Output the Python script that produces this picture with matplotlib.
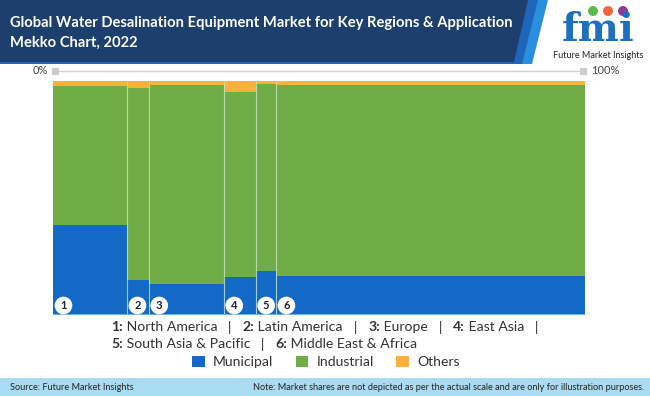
import matplotlib
matplotlib.use("Agg")
import matplotlib.pyplot as plt
from matplotlib.patches import Polygon, Rectangle, Circle
import numpy as np

plt.rcParams['font.family'] = ['Lato', 'DejaVu Sans']

# ---- data ----
region_nums = ['1', '2', '3', '4', '5', '6']
regions = ['North America', 'Latin America', 'Europe', 'East Asia',
           'South Asia & Pacific', 'Middle East & Africa']
region_share = [13.9, 4.1, 14.1, 6.0, 3.8, 58.1]       # column widths (%)
municipal = [38.4, 14.8, 13.3, 16.3, 18.9, 16.8]
industrial = [59.2, 82.2, 85.0, 78.9, 79.8, 81.5]
others = [2.4, 3.0, 1.7, 4.8, 1.3, 1.7]
segments = ['Municipal', 'Industrial', 'Others']
colors = ['#1369c6', '#70ad47', '#fbb040']

title = ("Global Water Desalination Equipment Market for Key Regions & Application\n"
         "Mekko Chart, 2022")

W, H = 650, 396
fig = plt.figure(figsize=(W / 100, H / 100), dpi=100)

def fx(px):
    return px / W

def fy(py):
    return 1 - py / H

# ---- header ----
bg = fig.add_axes([0, 0, 1, 1], zorder=0)
bg.set_xlim(0, W)
bg.set_ylim(H, 0)
bg.axis('off')
bg.add_patch(Polygon([[0, 0], [548, 0], [532, 64], [0, 64]], closed=True,
                     fc='#2b8fe0', ec='none'))
bg.add_patch(Polygon([[0, 0], [538, 0], [522, 64], [0, 64]], closed=True,
                     fc='#1f66b8', ec='none'))
bg.add_patch(Polygon([[0, 0], [528, 0], [514, 62], [0, 62]], closed=True,
                     fc='#1c3f6e', ec='none'))
bg.text(10, 33, title, color='white', fontsize=10.6, fontweight='bold',
        va='center', ha='left', linespacing=1.55)

# logo
bg.text(598, 41, 'fmi', color='#1f6fbf', fontsize=28, fontweight='bold',
        family=['DejaVu Serif'], ha='center', va='baseline')
for cx, c in [(593, '#5cb848'), (608, '#f0683a'), (623, '#8e3a96')]:
    bg.add_patch(Circle((cx, 11), 5, fc=c, ec='none'))
bg.text(598, 55, 'Future Market Insights', color='#222222', fontsize=6.5,
        ha='center', va='center')

# ---- footer ----
bg.add_patch(Rectangle((0, 378), W, 18, fc='#a9dcf2', ec='none'))
bg.text(10, 387, 'Source: Future Market Insights', fontsize=6.6,
        color='#222222', va='center', ha='left')
bg.text(644, 387, 'Note: Market shares are not depicted as per the actual scale '
        'and are only for illustration purposes.', fontsize=6.6,
        color='#222222', va='center', ha='right')

# ---- 0% - 100% scale line ----
bg.plot([58, 582], [71, 71], color='#d0d0d0', lw=1)
bg.add_patch(Rectangle((52, 67.5), 7, 7, fc='#cccccc', ec='none'))
bg.add_patch(Rectangle((580, 67.5), 7, 7, fc='#cccccc', ec='none'))
bg.text(48, 71, '0%', fontsize=8, color='#444444', ha='right', va='center')
bg.text(591, 71, '100%', fontsize=8, color='#444444', ha='left', va='center')

# ---- mekko chart ----
ax_l, ax_r, ax_t, ax_b = 53, 585, 80.7, 315
ax = fig.add_axes([fx(ax_l), fy(ax_b), fx(ax_r - ax_l), (ax_b - ax_t) / H], zorder=2)
ax.set_xlim(0, 100)
ax.set_ylim(0, 100)
ax.axis('off')

lefts = np.concatenate([[0], np.cumsum(region_share)[:-1]])
bottom = np.zeros(len(regions))
for seg, vals, c in zip(segments, [municipal, industrial, others], colors):
    vals = np.array(vals)
    ax.bar(lefts, vals, width=region_share, bottom=bottom, align='edge',
           color=c, edgecolor='none', label=seg)
    bottom += vals
for x in lefts[1:]:
    ax.axvline(x, color='#cfe3c6', lw=0.8, alpha=0.8)
ax.axhline(0, color='#7cc4f0', lw=1.2)

for num, x in zip(region_nums, lefts):
    ax.text(x + 10.5 * 100 / (ax_r - ax_l), 9.5 * 100 / (ax_b - ax_t), num,
            fontsize=8, fontweight='bold', color='#222222', ha='center', va='center',
            bbox=dict(boxstyle='circle,pad=0.3', fc='white', ec='none'))

# ---- region key (mixed bold / regular) ----
fig.canvas.draw()
renderer = fig.canvas.get_renderer()
FS = 10.1
TXT = '#333333'

def put_line(parts, x0, y):
    x = x0
    for s, bold in parts:
        t = bg.text(x, y, s, fontsize=FS, color=TXT, ha='left', va='center',
                    fontweight='bold' if bold else 'normal')
        bb = t.get_window_extent(renderer)
        x += bb.width

line1 = []
for i in range(4):
    line1 += [(region_nums[i] + ':', True), (' ' + regions[i], False),
              ('   |   ', False)]
line1[-1] = ('   |', False)
line2 = [(region_nums[4] + ':', True), (' ' + regions[4], False), ('   |   ', False),
         (region_nums[5] + ':', True), (' ' + regions[5], False)]
put_line(line1, 111, 327)
put_line(line2, 111, 344.5)

# legend
handles = [Rectangle((0, 0), 1, 1, fc=c, ec='none') for c in colors]
fig.legend(handles, segments, loc='center', bbox_to_anchor=(fx(326), fy(362)),
           ncol=3, frameon=False, fontsize=FS, handlelength=0.9, handleheight=0.9,
           handletextpad=0.6, columnspacing=1.6, labelcolor=TXT)

fig.savefig('out.png', dpi=100)
